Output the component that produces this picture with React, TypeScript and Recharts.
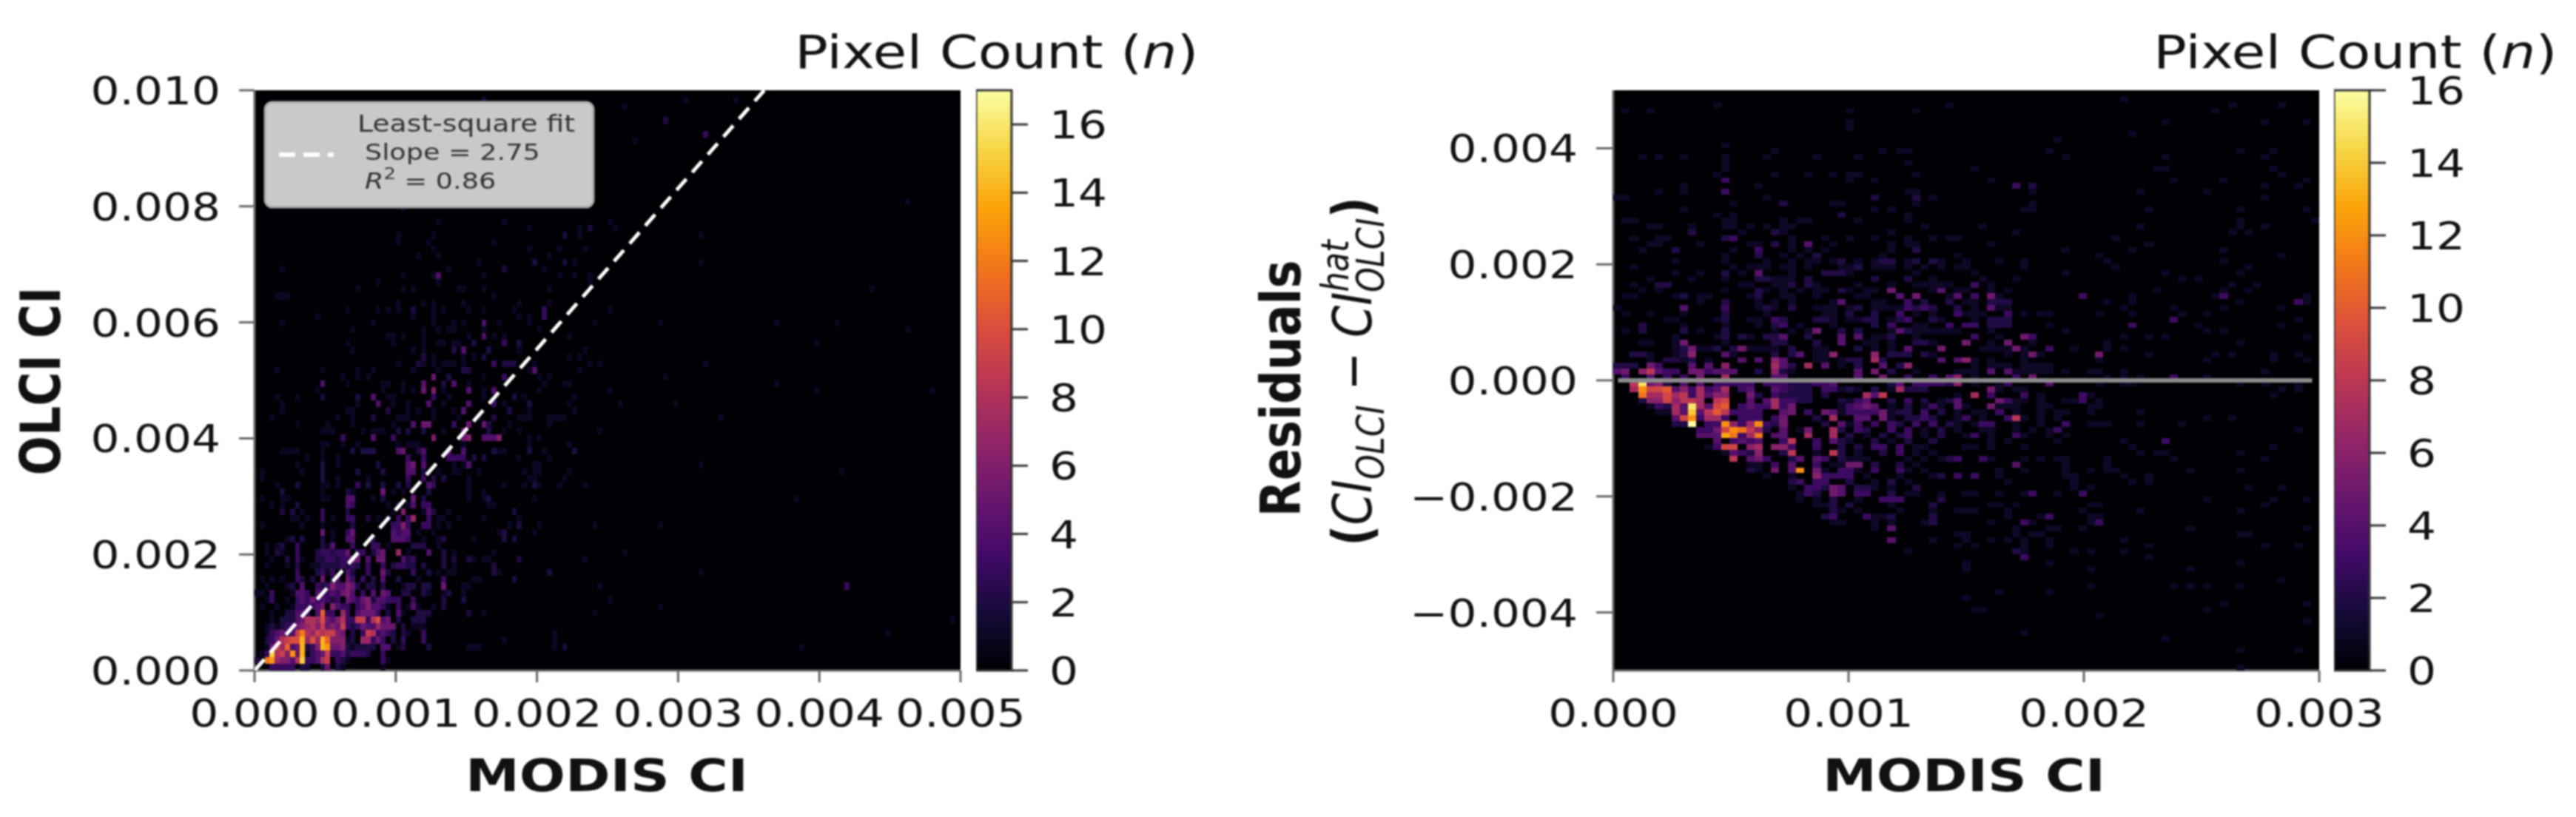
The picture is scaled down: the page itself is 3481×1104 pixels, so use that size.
import React from "react";
import {
  ScatterChart,
  Scatter,
  BarChart,
  Bar,
  XAxis,
  YAxis,
  CartesianGrid,
} from "recharts";

// each row: [row index, [column, count, column, count, ...]]
type BinRow = [number, number[]];

// left panel, rows counted from the bottom, 140 x 86 bins
const LEFT_COLS = 140;
const LEFT_ROWS = 86;
const leftBinsLow: BinRow[] = [
  [0, [3,3,4,3,5,3,6,3,7,3,9,2,10,2,13,2,14,5,16,2,17,1,25,1]],
  [1, [0,2,2,12,3,13,4,7,5,6,6,6,7,4,8,8,9,15,10,3,11,3,12,4,13,8,14,9,16,3,17,2,18,1,25,3,26,1]],
  [2, [1,1,2,3,3,15,4,8,5,9,6,6,7,13,8,5,9,14,10,1,11,3,12,4,13,5,14,9,15,3,16,3,17,4,18,2,19,3,20,3,21,3,22,2,25,3]],
  [3, [2,1,3,5,4,9,5,7,6,11,7,4,8,5,9,14,10,2,11,3,12,6,13,14,14,13,15,5,16,5,17,6,18,2,19,1,20,2,21,2,22,2,23,2,25,4,26,4,28,1,29,2,34,2,42,1,43,1,44,1,59,1,61,2,108,1]],
  [4, [2,2,3,3,4,5,5,8,6,9,7,10,8,10,9,14,10,7,11,10,12,7,13,14,14,11,15,6,16,6,17,6,18,1,19,2,21,7,22,7,23,3,24,5,25,3,27,2,29,3,33,3,49,1,59,1]],
  [5, [2,1,3,3,4,4,5,5,6,3,7,4,8,9,9,12,10,8,11,7,12,9,13,8,14,9,15,9,16,6,17,5,19,2,21,3,22,9,23,8,24,3,25,4,26,3,27,2,29,2,30,1,33,3,59,1,125,1]],
  [6, [2,1,3,2,4,1,5,2,6,3,7,3,8,5,9,6,10,7,11,8,12,6,13,9,14,5,15,6,16,5,17,9,18,3,19,2,20,3,21,5,22,4,23,4,24,7,25,5,26,5,27,5,29,2,31,1,32,1,33,1]],
  [7, [3,1,5,2,6,2,7,2,8,4,9,5,10,8,11,8,12,7,13,10,14,5,15,4,16,6,17,8,18,3,19,3,20,9,21,9,22,3,23,8,24,10,25,4,26,5,28,2,31,2,32,2,33,2,138,1]],
  [8, [3,1,6,2,7,2,8,4,9,4,10,3,12,4,13,11,14,3,15,3,17,7,18,3,20,4,21,5,22,5,23,5,24,3,26,2,28,4,29,1,32,2,33,2,34,2,42,2,45,1,67,1]],
  [9, [1,1,4,1,7,1,8,3,9,3,10,3,11,3,12,4,13,5,15,6,16,4,17,3,18,3,20,3,21,4,22,6,23,4,24,4,25,3,26,1,28,3,30,1,31,4,32,1,35,1,37,2,80,1]],
  [10, [2,1,3,3,6,1,8,3,9,4,10,3,11,5,12,3,13,4,14,3,15,2,16,3,18,5,19,4,20,3,21,5,22,6,23,2,24,4,25,4,26,3,27,3,28,3,31,3,37,2,41,2,70,1]],
  [11, [0,1,1,1,3,3,7,1,8,4,9,4,10,3,12,4,13,3,14,3,15,4,16,3,17,5,18,6,19,4,21,3,23,4,25,5,26,4,29,2,30,2,33,2,34,1,37,1,38,2,41,1]],
  [12, [2,1,6,1,7,2,9,4,12,3,13,2,14,3,15,6,16,4,17,4,18,6,19,5,20,2,22,2,23,2,25,2,29,1,30,2,31,2,33,2,34,2,37,5,41,1,42,1,68,1,117,3]],
  [13, [1,1,3,1,5,1,8,3,9,2,11,2,13,5,15,2,16,3,18,5,19,3,21,3,23,2,25,4,28,2,32,1,37,3,43,1,44,1,51,2]],
  [14, [8,3,12,2,13,3,14,1,15,3,18,4,19,2,22,3,25,5,26,2,31,3,34,2,36,1,38,1,39,1,47,2,48,1,58,2,88,1]],
  [15, [2,1,6,1,8,2,11,1,12,1,13,2,14,2,15,2,16,2,17,3,18,2,19,3,20,2,22,3,25,3,27,2,28,3,29,3,30,2,31,2,33,2,37,2,39,1,47,2]],
  [16, [3,1,6,2,8,3,9,1,12,2,13,2,14,3,15,3,16,2,17,3,18,3,19,6,20,5,22,4,24,5,25,5,29,4,30,2,31,3,37,2,39,2,42,2,43,1,45,1,46,1,52,2,65,1]],
  [17, [2,1,4,2,5,1,8,3,12,2,13,3,14,3,15,2,16,3,17,3,18,5,20,3,21,3,23,2,24,4,25,5,28,7,30,1,34,4,37,2,39,1,47,1,73,1]],
  [18, [2,1,4,1,5,2,8,3,13,2,14,1,15,4,19,3,23,3,24,3,26,1,31,2,32,2,33,2,36,1]],
  [19, [6,1,7,2,9,2,13,2,15,1,18,4,19,4,23,2,27,4,28,4,29,4,30,3,33,1,36,1,37,2,43,1,49,2,51,2]],
  [20, [13,5,15,1,18,3,19,5,27,4,28,3,29,4,30,4,32,1,35,1,48,1,49,2,55,1]],
  [21, [1,1,9,1,13,1,19,2,25,1,27,3,28,3,29,6,30,3,33,3,34,3,36,1,38,1,50,1,52,2,56,1,67,1,80,1]],
  [22, [7,1,8,1,10,1,13,3,15,1,18,3,19,3,22,2,24,1,26,2,28,3,30,3,31,7,34,3,36,1,37,1,40,1,45,1,52,1]],
  [23, [5,2,7,2,9,1,13,3,18,2,27,1,29,6,33,1,34,4,35,2,38,1,51,2]],
  [24, [3,1,5,1,8,2,18,4,19,3,26,1,28,2,30,1,31,4,33,3,34,3,46,1,47,1]],
  [25, [1,1,5,1,6,1,13,1,14,1,18,4,19,4,23,1,25,2,31,5,33,2,42,1,45,1,46,2,55,1,107,1]],
  [26, [5,2,13,1,18,2,19,1,25,5,27,1,29,1,31,1,34,2,42,1,45,1]],
  [27, [4,1,8,2,13,1,14,1,16,1,20,3,22,2,25,2,28,2,30,2,34,4,35,3,42,1,49,1,53,1,55,2,56,1,60,1,65,1]],
  [28, [1,1,13,2,16,1,22,1,30,3,33,3,35,2,37,2,42,1,54,1,55,1,61,1]],
  [29, [1,1,9,1,13,2,20,2,25,2,30,4,31,4,33,2,36,1,39,1,40,1,44,1,53,1,55,1,56,1,62,1,116,1]],
  [30, [8,1,13,2,16,1,24,2,30,4,31,5,33,4,39,1,41,1,42,4,55,1,56,1,88,1]],
  [31, [10,1,13,1,16,1,30,3,33,3,38,3,39,3,40,3,41,3,43,2,45,2,52,1,58,1]],
  [32, [5,1,6,1,7,1,8,1,13,1,19,2,21,2,22,2,23,2,28,4,29,5,32,2,33,4,38,4,41,4,47,2,48,1,49,1,54,2,57,1,63,2]],
];
const leftBinsHigh: BinRow[] = [
  [33, [13,1,14,1,17,1,20,1,28,1,30,1,31,1,32,1,41,1,54,1,62,1]],
  [34, [17,3,23,4,27,3,35,6,41,5,42,6,45,4,46,4,47,4,48,6,54,1,56,1]],
  [35, [13,1,14,1,15,1,21,1,23,1,24,1,25,1,28,2,30,2,33,2,37,1,41,5,46,2,49,1,52,1,68,1]],
  [36, [8,1,14,1,19,1,27,1,31,4,33,5,34,5,39,3,42,5,45,5,46,2,50,1,58,1]],
  [37, [3,1,16,1,19,1,23,2,28,1,29,1,30,1,35,1,40,1,44,1,47,2,52,1,53,1,54,1,58,1,59,1,60,1,61,1,92,1]],
  [38, [5,1,18,1,19,1,26,2,30,1,32,1,35,1,39,1,41,4,50,2,54,1,63,1]],
  [39, [5,1,20,1,24,4,27,1,30,1,34,4,37,1,42,4,47,3,49,1,54,2,62,1,72,1,83,1]],
  [40, [4,1,8,1,13,2,20,2,23,4,26,1,27,1,35,3,38,1,45,1,51,2,53,1,63,1]],
  [41, [12,1,25,1,29,1,31,1,33,5,35,6,37,1,42,4,45,1,47,4,56,1,70,1,111,1,134,1]],
  [42, [13,4,18,1,25,1,26,1,29,1,33,4,37,2,39,4,42,1,57,1,61,1,62,1,103,1]],
  [43, [17,1,20,1,22,1,35,5,38,2,45,1,49,3,56,1,58,1,81,1]],
  [44, [4,1,13,1,20,1,23,1,31,1,36,1,41,2,42,2,54,1,55,4,64,1]],
  [45, [28,1,32,2,33,1,35,1,37,1,38,1,39,1,41,1,47,3,49,2,50,2,51,2,55,1,66,1,68,1,89,1]],
  [46, [33,2,35,1,41,1,43,1,45,2,62,1,64,1]],
  [47, [19,1,31,1,33,1,39,2,41,4,46,2,52,1,65,1]],
  [48, [18,1,27,1,33,1,36,1,37,1,39,1,40,1,43,2,49,3,52,2,111,1]],
  [49, [26,1,27,1,29,1,33,1,42,1,45,4,47,1,49,1,62,1]],
  [50, [19,1,33,1,36,1,38,1,39,1,45,1,56,1,129,1]],
  [51, [5,1,23,1,35,1,39,1,41,1,45,4,48,1,54,1,67,1,80,1,103,1,115,1]],
  [52, [12,1,31,1,35,1,52,1,54,1,57,3]],
  [53, [18,1,24,1,26,1,28,1,31,2,35,1,37,1,42,1,45,1,51,1,57,3,70,1]],
  [54, [28,1,33,1,35,1,41,1,52,1,58,1]],
  [55, [4,1,5,1,6,1,47,1]],
  [56, [20,1,29,1,31,1,40,1,41,1,45,1,58,1,122,1]],
  [57, [24,1,36,1,66,1]],
  [58, [29,1,35,1,36,4,45,1,60,1,63,1,66,1]],
  [59, [5,1,38,1,49,2,57,1]],
  [60, [44,1,55,2,61,2,63,1,88,1]],
  [61, [32,1,36,1,58,1]],
  [62, [35,1,54,1,60,1,65,1]],
  [63, [28,1,34,1,47,1]],
  [64, [28,1,35,1,61,2,64,1,88,1]],
  [65, [54,1,64,1,66,2,71,1]],
  [66, [36,1,49,1,70,1]],
  [68, [29,1]],
  [69, [48,2,129,1]],
  [78, [75,1]],
  [79, [89,3]],
  [81, [81,2]],
  [83, [73,1]],
  [84, [45,2,85,1,95,1]],
];

// right panel, rows counted from the top (row 50 starts at zero), 85 x 100 bins
const RIGHT_COLS = 85;
const RIGHT_ROWS = 100;
const rightBinsUpper: BinRow[] = [
  [2, [12,1,40,1]],
  [3, [1,1,4,1,28,1,36,1]],
  [5, [28,1]],
  [6, [28,1]],
  [9, [13,1]],
  [10, [19,1,32,1,34,1,35,1]],
  [11, [3,1,5,1,8,1,13,1,18,1,24,1,29,1]],
  [12, [13,1,35,1]],
  [13, [13,1]],
  [14, [12,1,19,1,23,1,26,1,28,1,29,1,36,1]],
  [15, [13,3,28,1,31,1]],
  [16, [8,1,17,1]],
  [17, [5,1,8,1,13,3,35,1,36,1]],
  [18, [0,1,1,1,18,1,31,2,36,2,38,1]],
  [19, [14,1,20,2,26,1,27,1,36,1]],
  [20, [8,1,31,1,33,1]],
  [21, [12,1,14,1,27,2,35,1]],
  [22, [1,1,2,1,13,1,14,1,20,1,22,1,23,1,29,1,35,1]],
  [23, [4,1,5,1,9,1,13,1,14,1,16,1,18,1,20,1,21,1,37,1]],
  [24, [9,2,15,1,19,2,20,1,33,1]],
  [25, [2,1,5,1,6,1,13,2,14,3,21,1,25,1,28,1,31,1,35,1,38,1,40,1]],
  [26, [4,1,5,1,10,1,16,1,17,1,19,2,21,1,23,4,26,1,33,1,35,1,36,1]],
  [27, [3,1,7,2,14,1,17,3,21,1,23,1,25,1,33,1,36,2]],
  [28, [13,1,17,2,20,1,22,1,24,2,32,1]],
  [29, [7,1,13,1,18,1,21,1,23,1,24,1,26,1,27,2,29,1,31,1,32,2,33,2,35,1,36,2,38,2,39,1]],
  [30, [2,1,14,1,16,1,17,1,18,1,20,1,21,1,23,1,27,1,28,1,29,2,31,1,32,1,33,1,35,1,37,1,39,1]],
  [31, [7,1,10,1,13,2,15,1,17,4,21,1,25,2,26,2,27,2,28,1,36,1]],
  [32, [4,1,9,1,13,1,17,2,18,2,19,1,20,1,21,1,23,2,31,2,35,2,38,1]],
  [33, [2,1,5,2,6,2,15,1,16,1,19,1,20,1,21,2,23,2,24,1,29,1,33,1,36,1,37,1,38,1,39,1,40,1]],
  [34, [3,1,5,1,13,1,17,2,18,1,20,1,22,1,24,1,25,1,27,2,28,1,30,1,31,1,33,5,38,1,39,4]],
  [35, [1,1,2,1,7,1,8,2,10,1,11,1,16,1,17,2,20,1,21,1,24,1,29,1,30,1,34,4,36,5,40,1]],
  [36, [10,1,13,2,17,1,19,1,21,1,26,1,27,4,31,1,32,1,35,3,37,2,40,2]],
  [37, [0,1,8,4,13,3,17,1,18,2,19,1,21,2,24,1,25,1,26,1,28,1,29,2,31,1,32,1,33,1,34,1,35,3,36,2,37,3,38,2]],
  [38, [1,1,4,1,8,1,13,2,18,1,25,1,26,1,28,2,31,2,34,3,36,1,38,1]],
  [39, [6,1,7,1,12,1,13,2,16,1,17,1,19,3,20,2,24,2,25,2,26,1,28,1,29,1,30,2,31,2,33,1,34,2,35,3,38,2,39,1]],
  [40, [3,2,8,1,13,1,17,1,19,2,20,3,22,1,26,1,31,2,33,3,36,1,37,1,40,3]],
  [41, [1,1,3,2,8,2,10,1,13,2,19,1,21,1,23,1,24,5,27,2,29,2,33,1,34,4,35,2,36,1,37,1,38,1,39,1,40,1]],
  [42, [7,1,12,1,13,2,15,2,16,1,18,2,19,2,20,4,23,2,27,4,29,4,31,1,32,1,33,2,36,1]],
  [43, [3,1,4,1,7,1,8,5,13,1,19,2,20,2,24,2,27,4,30,1,31,1,33,1,36,2,37,2,38,1]],
  [44, [7,1,8,2,9,5,10,1,11,1,12,2,14,2,15,5,16,1,17,1,18,1,19,1,21,2,24,1,25,1,29,2,31,1,33,1,35,4,39,5]],
  [45, [2,2,3,2,4,1,7,1,8,2,9,6,13,4,14,1,19,2,21,2,22,4,24,1,25,1,26,6,31,6,33,2,34,2,35,2,37,2,38,1]],
  [46, [4,1,6,2,7,2,8,1,9,2,11,1,15,4,17,4,19,6,20,4,24,1,25,1,27,1,28,2,29,2,31,7,32,2,39,4]],
  [47, [0,2,1,2,2,2,4,5,5,3,9,4,11,4,13,6,19,7,20,4,21,2,23,7,25,4,27,1,29,2,32,4,34,2,35,6]],
  [48, [0,4,1,5,3,6,4,8,5,4,6,3,7,3,9,5,10,5,11,3,12,4,13,4,14,4,17,2,19,6,20,2,21,1,29,4,31,5,33,2,36,1]],
  [49, [1,3,4,4,6,3,8,3,10,5,13,7,19,4,20,4,29,4,32,5,35,3,38,3,40,4]],
];
const rightBinsLower: BinRow[] = [
  [50, [2,8,3,15,4,5,5,6,6,2,8,4,10,4,12,3,13,3,14,3,15,3,16,3,18,3,19,3,20,3,21,2,22,2,23,2,24,3,25,3,26,4,33,2,34,4,36,3,37,3,38,3,39,3,40,2]],
  [51, [2,7,3,12,4,9,5,9,6,10,7,4,8,6,9,3,10,7,11,3,12,4,13,7,15,3,16,4,19,4,20,3,21,2,22,2,23,2,25,3,26,3,27,1,28,2,29,1,31,2,33,1,34,7,35,2,36,2,37,2]],
  [52, [3,11,4,7,5,7,6,9,7,7,8,8,9,3,10,7,11,4,12,6,13,6,16,5,17,2,19,3,20,2,21,2,22,2,23,2,25,2,30,7,31,4,32,8]],
  [53, [3,2,4,6,5,6,6,9,7,6,8,8,9,8,10,7,12,8,13,9,16,4,18,4,19,7,20,3,21,3,22,2,23,2,27,2,28,1,29,3,30,4,33,2,35,3,37,2,39,1,40,2]],
  [54, [4,1,5,3,6,2,7,7,8,4,9,15,10,7,11,4,12,9,13,10,15,3,16,4,17,3,18,3,19,7,20,3,21,5,27,1,28,3,29,4,30,5,31,4,33,1,35,2,37,1,38,3,39,1]],
  [55, [5,1,6,1,7,7,8,4,9,14,10,4,11,8,12,10,13,8,14,3,15,3,16,3,17,3,20,4,21,5,23,3,25,5,26,4,27,1,28,3,29,3,30,3,31,3,32,5,33,1,34,2,35,2,37,3,39,2]],
  [56, [7,4,8,9,9,12,10,3,11,7,12,7,13,3,15,3,16,3,17,3,19,3,20,5,24,2,26,7,29,4,30,4,32,5,33,1,35,2,36,2,37,3,38,2]],
  [57, [7,2,8,2,9,16,11,3,12,3,13,12,14,6,15,3,16,7,17,12,18,3,19,2,20,5,25,2,27,4,28,1,29,3,31,3,33,3,34,2,36,3,38,3,40,2]],
  [58, [10,3,11,3,12,5,13,9,14,12,15,11,16,8,17,6,18,2,20,4,22,1,23,5,26,7,27,2,29,3,30,2,33,3,35,3,37,1,39,2]],
  [59, [10,4,11,4,12,4,13,13,14,11,15,3,16,7,17,11,19,4,20,4,23,7,26,7,28,2,30,1,32,2,34,2,35,3,37,1,39,2]],
  [60, [12,4,14,3,15,4,16,3,17,4,20,3,21,8,24,3,26,4,27,2,28,1,31,2,33,1,35,2,38,2]],
  [61, [11,1,12,3,13,9,14,9,16,6,17,7,19,6,20,6,21,3,24,3,27,2,29,2,31,3,32,3,34,3,36,1,37,1]],
  [62, [13,1,14,4,15,3,16,2,17,6,20,2,21,8,24,1,26,8,27,2,29,1,32,2,34,3,36,1,38,1]],
  [63, [14,8,16,4,17,5,18,3,21,2,22,4,24,4,25,3,27,2,28,1,29,1,30,1,35,1,37,1,39,1,40,2]],
  [64, [16,1,17,1,19,3,21,4,24,3,26,1,27,1,28,5,29,5,31,2,34,2,36,1]],
  [65, [16,2,17,1,19,5,21,4,22,12,24,5,25,1,27,3,28,3,29,1,31,3,34,3,35,1,37,1]],
  [66, [18,1,21,1,24,6,25,3,26,3,27,3,28,3,30,1,34,1,38,1,39,2]],
  [67, [21,2,22,3,24,3,25,3,28,2,31,1,33,2,35,1]],
  [68, [21,1,23,3,24,3,25,2,26,5,27,4,29,2,30,2,31,1,33,1,36,2]],
  [69, [22,1,23,3,24,2,26,5,27,4,29,3,30,3,33,2,35,1,36,1,39,1]],
  [70, [22,1,24,1,26,2,29,1,32,3,33,3,34,3,39,2]],
  [71, [24,1,25,1,26,2,28,2,33,1,38,2]],
  [72, [26,2,27,1,29,1,34,1,38,1]],
  [73, [25,2,26,3,30,3,31,1,32,1,33,2,38,2]],
  [74, [26,1,27,1,31,1,33,1,37,1,38,2]],
  [75, [31,1,33,4]],
  [77, [33,4,38,1]],
  [79, [35,1]],
];
const rightBinsFar: BinRow[] = [
  [1, [61,1]],
  [2, [74,1,80,1]],
  [3, [72,1]],
  [5, [66,1,78,1,83,1]],
  [7, [62,1]],
  [8, [53,1]],
  [10, [52,1,75,1,79,1]],
  [11, [54,1,66,1,78,1]],
  [13, [43,1,65,1,66,1,79,1]],
  [14, [80,1]],
  [15, [45,1,67,1,73,1,83,1]],
  [16, [48,3,50,2,78,1,82,1]],
  [17, [50,1,63,1,71,1]],
  [18, [78,1]],
  [19, [50,1]],
  [20, [49,1,50,1,64,1,75,1,83,1]],
  [22, [75,1,84,1]],
  [23, [44,1,63,1,75,1,78,1]],
  [24, [48,1,74,1,76,1]],
  [25, [41,1,60,1]],
  [26, [45,1,64,1]],
  [27, [54,1,62,1,73,1]],
  [28, [41,1,58,1,80,1]],
  [29, [42,1,46,1,49,1,59,1,73,1]],
  [30, [41,1,42,1,49,1,60,1,76,1]],
  [31, [43,1,54,1,66,1,75,1]],
  [32, [44,1,48,1,68,1,70,1]],
  [33, [43,3,45,1,74,1,77,1]],
  [34, [41,1,42,1,45,1,47,1,65,1,73,1,76,1]],
  [35, [41,4,43,3,45,5,46,1,56,3,62,1,72,1,73,3,83,1]],
  [36, [42,1,43,1,45,2,46,2,47,2,59,1,62,1,75,1,82,3,83,1]],
  [37, [41,2,43,1,45,4,46,1,47,1,61,1,67,1,73,1,80,1]],
  [38, [41,3,42,1,43,1,44,1,47,3,49,1,51,1,52,1,58,1,62,1,68,1,71,1]],
  [39, [43,1,45,2,46,2,47,2,67,3,82,1]],
  [40, [42,3,43,3,45,2,46,2,47,2,52,1,62,3,70,1,80,1]],
  [41, [41,1,45,1,54,1,71,1,73,1]],
  [42, [43,3,46,1,49,5,50,3,61,1,64,1,66,1,83,1]],
  [43, [42,5,45,1,47,5,50,1,59,1,75,1]],
  [44, [44,1,45,1,46,1,47,1,48,5,49,1,52,3,55,1,59,1,61,1]],
  [45, [47,1,49,1,50,5,51,1,58,5,64,1,72,1,74,1,79,1,82,1]],
  [46, [41,4,42,6,43,1,45,1,49,1,58,1,71,1,79,1,83,1]],
  [47, [43,1,45,1,46,1,47,1,49,1,50,1,51,1,52,1]],
  [48, [41,1,42,1,43,1,45,4,47,4,48,1,49,1,50,1,51,1,52,1,54,1,57,1,58,1,61,1,78,1]],
  [49, [41,6,43,1,48,3,50,5,59,1,61,1,63,1,67,3,71,1]],
  [50, [41,6,43,1,46,1,47,3,52,4,58,1,61,1,62,1,75,1,78,1,82,1]],
  [51, [45,5,46,1,48,1,49,1,80,1,82,1]],
  [52, [41,1,43,7,45,3,49,3,51,1,56,3,57,1,79,1]],
  [53, [41,4,46,5,47,3,48,1,49,1,51,1,54,1,55,1,56,3,58,1]],
  [54, [41,4,42,1,45,5,46,1,47,1,48,1,51,1,52,1,57,1,58,1]],
  [55, [41,1,43,1,44,1,46,3,48,1,51,1,53,1,54,1,57,1,63,1]],
  [56, [41,1,42,3,44,1,47,3,48,8,49,1,51,1,53,1,71,1,74,1]],
  [57, [41,1,43,1,44,3,45,3,48,1,51,1,54,3,57,1,58,1,59,1,63,1,68,1]],
  [58, [41,1,44,1,45,1,48,1,50,1,52,1,53,3,82,1]],
  [59, [42,1,43,3,45,1,48,3,49,1,52,1,54,1]],
  [60, [45,1,47,1,53,1,61,1,66,3]],
  [61, [42,1,43,1,45,1,49,1,62,1,79,1]],
  [62, [63,1,65,1,66,1,75,1]],
  [63, [41,3,44,3,45,1,49,1,51,1,53,1,54,1,59,1,67,1,78,1]],
  [64, [48,4,54,1,59,1]],
  [65, [46,1,49,1,54,1,57,1,59,1,60,1,69,1,75,1]],
  [66, [41,3,43,3,46,1,54,1,55,1,61,1,64,1]],
  [67, [47,1,55,1,62,1,64,1]],
  [68, [55,1,57,1,76,1,80,1]],
  [69, [42,1,43,1,46,1,49,1,50,3,53,1,56,3]],
  [70, [71,1,79,1,83,1]],
  [71, [45,1,46,1,48,1,57,1,58,1,78,1]],
  [72, [41,1,42,1,43,1,47,1,56,1,63,1,75,1]],
  [73, [47,1,51,1,52,3,57,1,58,1]],
  [74, [45,1,49,3,50,1,57,1,58,3]],
  [75, [48,1,52,1,53,1,56,1,69,1,83,1]],
  [76, [41,1,42,1,48,1,50,1,51,1,75,1,76,1]],
  [77, [42,1,45,1,47,1,49,1,52,1,61,1]],
  [78, [41,1,43,1,49,1,52,1,64,1,78,1,82,1]],
  [79, [48,2,49,1,55,1,57,1,61,1]],
  [80, [49,3,64,1]],
  [81, [42,1,52,1,75,1]],
  [82, [42,1,57,1,69,1]],
  [84, [80,1]],
  [85, [57,1,67,1,69,1,71,1,75,1]],
  [86, [46,1,52,1]],
  [87, [42,1]],
  [88, [73,1,83,1]],
  [89, [43,1,44,1,71,1]],
  [90, [58,1]],
  [91, [83,1]],
  [93, [49,1]],
  [94, [66,1]],
  [96, [75,1,82,1]],
  [99, [75,1]],
];

const leftXTicks = [0, 0.001, 0.002, 0.003, 0.004, 0.005];
const leftYTicks = [0, 0.002, 0.004, 0.006, 0.008, 0.01];
const rightXTicks = [0, 0.001, 0.002, 0.003];
const rightYTicks = [-0.004, -0.002, 0, 0.002, 0.004];
const leftBarTicks = [0, 2, 4, 6, 8, 10, 12, 14, 16];
const rightBarTicks = [0, 2, 4, 6, 8, 10, 12, 14, 16];
const fitLine = [{ x: 0, y: 0 }, { x: 0.00361, y: 0.01 }];
const zeroLine = [{ x: 0.00002, y: 0 }, { x: 0.00297, y: 0 }];

const INFERNO = [
  "#000004", "#160b39", "#420a68", "#6a176e", "#932667", "#bc3754",
  "#dd513a", "#f37819", "#fca50a", "#f6d746", "#fcffa4",
];

const FONT = "'DejaVu Sans', sans-serif";
const SX = 1.18; // the figure was stretched sideways
const PLOT_W = 954;
const PLOT_H = 784;
const TOP = 122;
const AXIS_H = 198;
const TEXT = "#111";

function hex(c: string) {
  return [1, 3, 5].map((i) => parseInt(c.slice(i, i + 2), 16));
}

function inferno(t: number) {
  const p = Math.min(Math.max(t, 0), 1) * (INFERNO.length - 1);
  const i = Math.min(Math.floor(p), INFERNO.length - 2);
  const a = hex(INFERNO[i]);
  const b = hex(INFERNO[i + 1]);
  const rgb = a.map((v, j) => Math.round(v + (b[j] - v) * (p - i)));
  return `rgb(${rgb.join(",")})`;
}

const leftCells = [...leftBinsLow, ...leftBinsHigh].flatMap(([row, pairs]) =>
  pairs
    .filter((_, i) => i % 2 === 0)
    .map((col, i) => ({
      x: ((col + 0.5) * 0.005) / LEFT_COLS,
      y: ((row + 0.5) * 0.01) / LEFT_ROWS,
      n: pairs[i * 2 + 1],
    }))
);

const rightCells = [...rightBinsUpper, ...rightBinsLower, ...rightBinsFar].flatMap(([row, pairs]) =>
  pairs
    .filter((_, i) => i % 2 === 0)
    .map((col, i) => ({
      x: ((col + 0.5) * 0.003) / RIGHT_COLS,
      y: 0.005 - ((row + 0.5) * 0.01) / RIGHT_ROWS,
      n: pairs[i * 2 + 1],
    }))
);

function fmt(v: number) {
  return v.toFixed(3).replace("-", "\u2212");
}

function YTick({ x, y, payload }: any) {
  return (
    <g transform={`translate(${x},${y}) scale(${SX},1)`}>
      <text textAnchor="end" dy={19} fontFamily={FONT} fontSize={52} fill={TEXT}>
        {fmt(payload.value)}
      </text>
    </g>
  );
}

function XTick({ x, y, payload }: any) {
  return (
    <g transform={`translate(${x},${y + 42}) scale(${SX},1)`}>
      <text textAnchor="middle" fontFamily={FONT} fontSize={52} fill={TEXT}>
        {fmt(payload.value)}
      </text>
    </g>
  );
}

function BarTick({ x, y, payload }: any) {
  return (
    <g transform={`translate(${x},${y}) scale(${SX},1)`}>
      <text textAnchor="start" dy={19} fontFamily={FONT} fontSize={52} fill={TEXT}>
        {payload.value}
      </text>
    </g>
  );
}

function cellShape(cols: number, rows: number, vmax: number) {
  const w = PLOT_W / cols;
  const h = PLOT_H / rows;
  return (props: any) => (
    <rect
      x={props.cx - w / 2}
      y={props.cy - h / 2}
      width={w}
      height={h}
      fill={inferno(props.payload.n / vmax)}
      shapeRendering="crispEdges"
    />
  );
}

const noPoint = () => <g />;

function Colorbar({ left, vmax, ticks, id }: { left: number; vmax: number; ticks: number[]; id: string }) {
  return (
    <div style={{ position: "absolute", left, top: 0 }}>
      <BarChart
        width={248}
        height={1104}
        data={[{ name: "n", v: vmax }]}
        margin={{ top: TOP, right: 0, bottom: AXIS_H, left: 0 }}
        barCategoryGap={0}
      >
        <defs>
          <linearGradient id={id} x1="0" y1="1" x2="0" y2="0">
            {INFERNO.map((c, i) => (
              <stop key={c} offset={i / (INFERNO.length - 1)} stopColor={c} />
            ))}
          </linearGradient>
        </defs>
        <XAxis dataKey="name" hide />
        <YAxis
          orientation="right"
          width={200}
          domain={[0, vmax]}
          ticks={ticks}
          interval={0}
          tick={<BarTick />}
          tickSize={22}
          tickMargin={29}
          axisLine={false}
          tickLine={{ stroke: "#333", strokeWidth: 3 }}
        />
        <Bar dataKey="v" fill={`url(#${id})`} stroke="#333" strokeWidth={3} isAnimationActive={false} />
      </BarChart>
    </div>
  );
}

function Stretched({ x, y, size, weight, anchor, fill, sx = SX, children }: any) {
  return (
    <g transform={`translate(${x},${y}) scale(${sx},1)`}>
      <text fontFamily={FONT} fontSize={size} fontWeight={weight} textAnchor={anchor} fill={fill ?? TEXT}>
        {children}
      </text>
    </g>
  );
}

function Rotated({ x, y, size, children }: any) {
  return (
    <g transform={`translate(${x},${y}) scale(${SX},1) rotate(-90)`}>
      <text fontFamily={FONT} fontSize={size} textAnchor="middle" fill={TEXT}>
        {children}
      </text>
    </g>
  );
}

function Overlay() {
  return (
    <svg width={3481} height={1104} style={{ position: "absolute", left: 0, top: 0 }}>
      <Stretched x={1074} y={92} size={62} sx={1.2}>
        Pixel Count (<tspan fontStyle="italic">n</tspan>)
      </Stretched>
      <Stretched x={2910} y={92} size={62} sx={1.2}>
        Pixel Count (<tspan fontStyle="italic">n</tspan>)
      </Stretched>
      <Stretched x={820} y={1069} size={60} weight="bold" anchor="middle" sx={1.22}>MODIS CI</Stretched>
      <Stretched x={2654} y={1069} size={60} weight="bold" anchor="middle" sx={1.22}>MODIS CI</Stretched>
      <Rotated x={81} y={515} size={63}>
        <tspan fontWeight="bold">OLCI CI</tspan>
      </Rotated>
      <Rotated x={1757} y={525} size={64}>
        <tspan fontWeight="bold">Residuals</tspan>
      </Rotated>
      <Rotated x={1853} y={502} size={62}>
        <tspan fontWeight="bold">(</tspan>
        <tspan fontStyle="italic">CI</tspan>
        <tspan fontStyle="italic" fontSize={43} dy={14}>OLCI</tspan>
        <tspan dy={-14}> {"\u2212"} </tspan>
        <tspan fontStyle="italic">CI</tspan>
        <tspan fontStyle="italic" fontSize={43} dy={-26}>hat</tspan>
        <tspan fontStyle="italic" fontSize={43} dy={40} dx={-71}>OLCI</tspan>
        <tspan fontWeight="bold" dy={-14}>)</tspan>
      </Rotated>

      <rect x={358} y={138} width={444} height={142} rx={10} fill="#c9c9c9" stroke="#a8a8a8" strokeWidth={3} />
      <line x1={377} y1={209} x2={451} y2={209} stroke="#fff" strokeWidth={6} strokeDasharray="22 11" />
      <Stretched x={483} y={178} size={32} fill="#333">Least-square fit</Stretched>
      <Stretched x={493} y={216} size={31} fill="#333">Slope = 2.75</Stretched>
      <Stretched x={493} y={255} size={31} fill="#333">
        <tspan fontStyle="italic">R</tspan>
        <tspan fontSize={22} dy={-13}>2</tspan>
        <tspan dy={13}> = 0.86</tspan>
      </Stretched>
    </svg>
  );
}

export default function App() {
  return (
    <div
      style={{
        position: "absolute",
        left: 0,
        top: 0,
        width: 3481,
        height: 1104,
        background: "#fff",
        overflow: "hidden",
        filter: "blur(1px)",
      }}
    >
      <div style={{ position: "absolute", left: 0, top: 0 }}>
        <ScatterChart width={1440} height={1104} margin={{ top: TOP, right: 142, bottom: 0, left: 0 }}>
          <CartesianGrid horizontal={false} vertical={false} fill="#000004" />
          <XAxis
            type="number"
            dataKey="x"
            domain={[0, 0.005]}
            ticks={leftXTicks}
            interval={0}
            height={AXIS_H}
            tick={<XTick />}
            tickSize={16}
            tickMargin={18}
            stroke="#666"
            strokeWidth={3}
            allowDataOverflow
          />
          <YAxis
            type="number"
            dataKey="y"
            domain={[0, 0.01]}
            ticks={leftYTicks}
            interval={0}
            width={344}
            tick={<YTick />}
            tickSize={21}
            tickMargin={25}
            stroke="#666"
            strokeWidth={3}
            allowDataOverflow
          />
          <Scatter data={leftCells} shape={cellShape(LEFT_COLS, LEFT_ROWS, 17)} isAnimationActive={false} />
          <Scatter
            data={fitLine}
            shape={noPoint}
            line={{ stroke: "#fff", strokeWidth: 5, strokeDasharray: "20 12" }}
            isAnimationActive={false}
          />
        </ScatterChart>
      </div>
      <Colorbar left={1319} vmax={17} ticks={leftBarTicks} id="infernoLeft" />

      <div style={{ position: "absolute", left: 1700, top: 0 }}>
        <ScatterChart width={1600} height={1104} margin={{ top: TOP, right: 166, bottom: 0, left: 0 }}>
          <CartesianGrid horizontal={false} vertical={false} fill="#000004" />
          <XAxis
            type="number"
            dataKey="x"
            domain={[0, 0.003]}
            ticks={rightXTicks}
            interval={0}
            height={AXIS_H}
            tick={<XTick />}
            tickSize={16}
            tickMargin={18}
            stroke="#666"
            strokeWidth={3}
            allowDataOverflow
          />
          <YAxis
            type="number"
            dataKey="y"
            domain={[-0.005, 0.005]}
            ticks={rightYTicks}
            interval={0}
            width={480}
            tick={<YTick />}
            tickSize={23}
            tickMargin={25}
            stroke="#666"
            strokeWidth={3}
            allowDataOverflow
          />
          <Scatter data={rightCells} shape={cellShape(RIGHT_COLS, RIGHT_ROWS, 16)} isAnimationActive={false} />
          <Scatter
            data={zeroLine}
            shape={noPoint}
            line={{ stroke: "#8a8a8a", strokeWidth: 6 }}
            isAnimationActive={false}
          />
        </ScatterChart>
      </div>
      <Colorbar left={3154} vmax={16} ticks={rightBarTicks} id="infernoRight" />

      <Overlay />
    </div>
  );
}
